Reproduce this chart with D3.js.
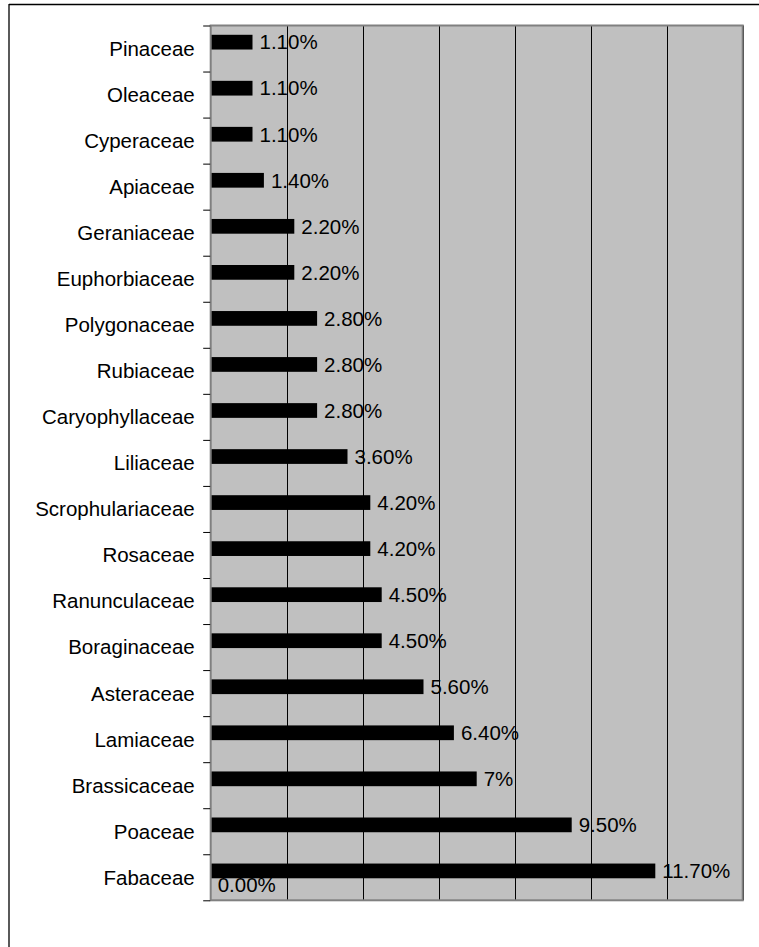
<!DOCTYPE html>
<html>
<head>
<meta charset="utf-8">
<script src="https://cdn.jsdelivr.net/npm/d3@7"></script>
<style>
  html, body { margin: 0; padding: 0; background: #fff; }
  svg { display: block; }
  text { font-family: Arial, "Liberation Sans", sans-serif; fill: #000; }
</style>
</head>
<body>
<script>
// ---- data (top to bottom) ----
const categories = ["Pinaceae","Oleaceae","Cyperaceae","Apiaceae","Geraniaceae","Euphorbiaceae",
  "Polygonaceae","Rubiaceae","Caryophyllaceae","Liliaceae","Scrophulariaceae","Rosaceae",
  "Ranunculaceae","Boraginaceae","Asteraceae","Lamiaceae","Brassicaceae","Poaceae","Fabaceae"];
const values = [1.1,1.1,1.1,1.4,2.2,2.2,2.8,2.8,2.8,3.6,4.2,4.2,4.5,4.5,5.6,6.4,7,9.5,11.7];
const valueLabels = ["1.10%","1.10%","1.10%","1.40%","2.20%","2.20%","2.80%","2.80%","2.80%",
  "3.60%","4.20%","4.20%","4.50%","4.50%","5.60%","6.40%","7%","9.50%","11.70%"];
// second series: only Fabaceae carries a (zero) value
const values2 = [null,null,null,null,null,null,null,null,null,null,null,null,null,null,null,null,null,null,0];
const values2Labels = [null,null,null,null,null,null,null,null,null,null,null,null,null,null,null,null,null,null,"0.00%"];
const xTicks = [0,2,4,6,8,10,12,14];

(function () {
const W = 759, H = 947;
const pLeft = 210.7, pRight = 742.7, pTop = 25.5, pBottom = 900.3;

const svg = d3.select("body").append("svg").attr("width", W).attr("height", H);

// outer frame (top and left edges visible)
svg.append("line").attr("x1", 9).attr("x2", W).attr("y1", 4.5).attr("y2", 4.5)
  .attr("stroke", "#000").attr("stroke-width", 1.3);
svg.append("line").attr("x1", 9).attr("x2", 9).attr("y1", 4).attr("y2", H)
  .attr("stroke", "#000").attr("stroke-width", 1.3);

const x = d3.scaleLinear().domain([0, 14]).range([pLeft, pRight]);
const y = d3.scaleBand().domain(categories).range([pTop + 1, pBottom + 1])
  .paddingInner(0.36).paddingOuter(0.18);
const ySeries = d3.scaleBand().domain(["s1","s2"]).range([0, y.bandwidth()]);
const yIdx = d3.scaleLinear().domain([0, categories.length]).range([pTop, pBottom]);

// plot background
svg.append("rect").attr("x", pLeft).attr("y", pTop).attr("width", pRight - pLeft)
  .attr("height", pBottom - pTop).attr("fill", "#c0c0c0");

// vertical gridlines
svg.append("g").selectAll("line").data(xTicks.filter(d => d > 0)).join("line")
  .attr("x1", d => Math.round(x(d)) + 0.5).attr("x2", d => Math.round(x(d)) + 0.5)
  .attr("y1", pTop).attr("y2", pBottom).attr("stroke", "#000").attr("stroke-width", 1);

// second-series labels (behind bars)
svg.append("g").selectAll("text").data(categories.map((c, i) => ({c, v: values2[i], t: values2Labels[i]})).filter(d => d.v !== null))
  .join("text")
  .attr("x", d => x(d.v) + 7)
  .attr("y", d => y(d.c) + ySeries("s2") + ySeries.bandwidth() / 2 + 6.8)
  .attr("font-size", "20.5px")
  .text(d => d.t);

// bars
svg.append("g").selectAll("rect").data(categories.map((c, i) => ({c, v: values[i]}))).join("rect")
  .attr("x", x(0))
  .attr("y", d => y(d.c) + ySeries("s1"))
  .attr("width", d => x(d.v) - x(0))
  .attr("height", ySeries.bandwidth())
  .attr("fill", "#000");

// value labels
svg.append("g").selectAll("text").data(categories.map((c, i) => ({c, v: values[i], t: valueLabels[i]}))).join("text")
  .attr("x", d => x(d.v) + 7)
  .attr("y", d => y(d.c) + ySeries("s1") + ySeries.bandwidth() / 2 + 7.3)
  .attr("font-size", "20.5px")
  .text(d => d.t);

// plot border
svg.append("rect").attr("x", pLeft).attr("y", pTop).attr("width", pRight - pLeft)
  .attr("height", pBottom - pTop).attr("fill", "none").attr("stroke", "#808080").attr("stroke-width", 2);

// category axis ticks
const tickAxis = d3.axisLeft(yIdx).tickValues(d3.range(categories.length + 1)).tickSize(7).tickFormat("");
const gt = svg.append("g").attr("transform", `translate(${pLeft - 0.5},0)`).call(tickAxis);
gt.select(".domain").remove();
gt.selectAll(".tick line").attr("stroke", "#000");

// category labels
const labAxis = d3.axisLeft(d3.scaleBand().domain(categories).range([pTop, pBottom])).tickSize(0).tickPadding(16);
const gl = svg.append("g").attr("transform", `translate(${pLeft},0)`).call(labAxis);
gl.select(".domain").remove();
gl.selectAll(".tick text").attr("font-size", "20.5px").attr("font-family", "Arial, 'Liberation Sans', sans-serif")
  .attr("fill", "#000").attr("dy", "0.36em");
})();
</script>
</body>
</html>
